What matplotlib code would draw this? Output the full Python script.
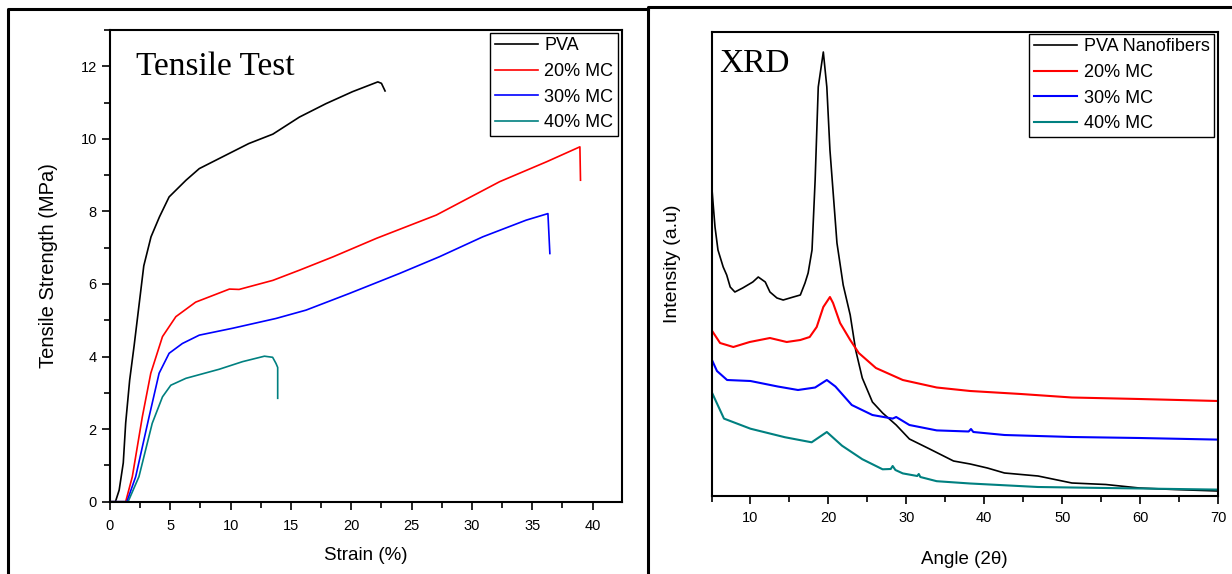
import matplotlib
matplotlib.use("Agg")
import matplotlib.pyplot as plt
from matplotlib.lines import Line2D
from matplotlib.ticker import MultipleLocator

plt.rcParams['font.family'] = ['Liberation Sans', 'DejaVu Sans']

# ---- tensile test (strain %, stress MPa) ----
pva_strain = [0, 0.45, 0.76, 1.1, 1.3, 1.63, 2.0, 2.4, 2.8, 3.4, 4.1, 4.9, 6.3, 7.4, 9.3,
              11.5, 13.5, 15.7, 17.9, 20.1, 22.2, 22.5, 22.8]
pva_stress = [0, 0, 0.32, 1.07, 2.17, 3.35, 4.3, 5.4, 6.5, 7.3, 7.85, 8.4, 8.86, 9.18, 9.5,
              9.87, 10.13, 10.6, 10.97, 11.3, 11.57, 11.53, 11.32]
mc20_strain = [0, 1.3, 1.85, 2.68, 3.38, 4.35, 5.46, 7.1, 9.9, 10.7, 13.5, 15.7, 18.5,
               22.1, 27.05, 32.3, 36.2, 38.95, 39.0]
mc20_stress = [0, 0, 0.69, 2.34, 3.54, 4.55, 5.1, 5.5, 5.86, 5.85, 6.1, 6.38, 6.75,
               7.26, 7.9, 8.82, 9.37, 9.78, 8.86]
mc30_strain = [0, 1.4, 2.13, 3.24, 4.07, 4.9, 6.0, 7.4, 10.16, 13.76, 16.25, 19.85, 24.0,
               27.3, 30.9, 34.5, 36.3, 36.46]
mc30_stress = [0, 0, 0.69, 2.34, 3.54, 4.09, 4.36, 4.59, 4.78, 5.05, 5.28, 5.74, 6.29,
               6.75, 7.3, 7.76, 7.94, 6.84]
mc40_strain = [0, 1.5, 2.4, 3.5, 4.35, 5.04, 6.29, 9.05, 10.99, 12.8, 13.48, 13.76, 13.9, 13.9]
mc40_stress = [0, 0, 0.69, 2.16, 2.89, 3.21, 3.4, 3.65, 3.86, 4.01, 3.98, 3.81, 3.7, 2.85]

# ---- XRD (2theta, intensity a.u.) ----
pva_ang = [5.0, 5.2, 5.45, 5.83, 6.5, 6.95, 7.4, 8.0, 9.0, 10.3, 11.0, 11.9, 12.5, 13.4, 14.2,
           15.5, 16.4, 17.0, 17.4, 17.9, 18.3, 18.7, 19.35, 19.8, 20.2, 21.1, 21.9, 22.8, 23.5,
           24.35, 25.65, 26.96, 28.7, 30.4, 33.0, 36.06, 38.2, 40.4, 42.6, 46.9, 51.25, 55.6,
           59.9, 64.3, 70.0]
pva_int = [313, 293, 269, 246, 229, 221, 209, 204, 208, 214, 219, 214, 204, 198, 196,
           199, 201, 213, 223, 246, 316, 409, 444, 409, 346, 253, 211, 181, 146,
           118, 94, 83, 71, 57, 47, 35, 32, 28, 23, 20, 13, 11.5,
           8, 6.5, 5]
mc20_ang = [5.0, 6.1, 7.8, 9.9, 12.5, 14.65, 16.4, 17.6, 18.5, 19.35, 20.2, 20.6, 21.5, 22.8,
            23.9, 26.1, 29.55, 33.9, 38.2, 44.7, 51.25, 59.9, 70.0]
mc20_int = [166, 153, 149, 154, 158, 154, 156, 159, 169, 189, 199, 193, 173, 156,
            143, 128, 116, 108.5, 105, 102, 98.5, 97, 95]
mc30_ang = [5.0, 5.7, 7.0, 10.0, 13.5, 16.1, 18.3, 19.8, 20.9, 23.0, 25.65, 28.25, 28.7,
            30.4, 33.9, 38.0, 38.3, 38.6, 42.6, 51.25, 59.9, 70.0]
mc30_int = [137, 125, 116, 115, 109.5, 106, 108.5, 116, 109.5, 91, 81, 77.4, 79,
            71, 65.6, 64.5, 67, 64, 61, 59, 58, 56.4]
mc40_ang = [5.0, 6.6, 10.0, 14.4, 17.85, 19.8, 21.75, 24.35, 26.96, 28.0, 28.25, 28.6, 29.55,
            31.4, 31.6, 31.8, 33.9, 38.2, 46.9, 55.6, 70.0]
mc40_int = [104.4, 77.4, 67.3, 58.8, 53.7, 64, 50.3, 36.8, 26.7, 27, 30, 26, 22.6,
            20, 22, 19, 14.8, 12.5, 9, 8, 6.4]

labels_left = ['PVA', '20% MC', '30% MC', '40% MC']
labels_right = ['PVA Nanofibers', '20% MC', '30% MC', '40% MC']
colors = ['black', '#ff0000', '#0000ff', '#008080']

W, H = 1232, 574
fig = plt.figure(figsize=(W / 100, H / 100), dpi=100)


def px_axes(x0, y0, x1, y1):
    # pixel box (top-left origin) -> figure axes
    return fig.add_axes([x0 / W, 1 - y1 / H, (x1 - x0) / W, (y1 - y0) / H])


def style_axes(ax):
    for s in ax.spines.values():
        s.set_linewidth(1.5)
    ax.tick_params(which='both', direction='out', top=False, right=False, width=1.2,
                   labelsize=10.5)
    ax.tick_params(which='major', length=5.5)
    ax.tick_params(which='minor', length=4)


legend_kw = dict(loc='upper right', borderaxespad=0, fontsize=13, handlelength=2.4,
                 handletextpad=0.35, labelspacing=0.48, borderpad=0.25, fancybox=False,
                 framealpha=1, edgecolor='black')

# ---------------- left: tensile test ----------------
ax1 = px_axes(110, 30, 622, 501.7)
for xs, ys, c, lab in zip([pva_strain, mc20_strain, mc30_strain, mc40_strain],
                          [pva_stress, mc20_stress, mc30_stress, mc40_stress],
                          colors, labels_left):
    ax1.plot(xs, ys, color=c, lw=1.2, label=lab)
ax1.set_xlim(0, 42.44)
ax1.set_ylim(0, 13.0)
ax1.xaxis.set_major_locator(MultipleLocator(5))
ax1.xaxis.set_minor_locator(MultipleLocator(2.5))
ax1.yaxis.set_major_locator(MultipleLocator(2))
ax1.yaxis.set_minor_locator(MultipleLocator(1))
style_axes(ax1)
ax1.tick_params(axis='x', pad=7)
ax1.tick_params(axis='y', pad=4)
ax1.set_xlabel('Strain (%)', fontsize=13.5, labelpad=10)
ax1.set_ylabel('Tensile Strength (MPa)', fontsize=14.5, labelpad=16)
ax1.text(0.05, 0.955, 'Tensile Test', transform=ax1.transAxes, fontsize=24,
         family='Liberation Serif', va='top', ha='left')
leg1 = ax1.legend(bbox_to_anchor=(0.992, 0.994), **legend_kw)
leg1.get_frame().set_linewidth(1.0)

# ---------------- right: XRD ----------------
ax2 = px_axes(711.5, 32, 1218, 496)
for xs, ys, c, lab in zip([pva_ang, mc20_ang, mc30_ang, mc40_ang],
                          [pva_int, mc20_int, mc30_int, mc40_int],
                          colors, labels_right):
    ax2.plot(xs, ys, color=c, lw=1.5 if c != 'black' else 1.2, label=lab)
ax2.set_xlim(5, 70)
ax2.set_ylim(0, 464)
ax2.xaxis.set_major_locator(MultipleLocator(10))
ax2.xaxis.set_minor_locator(MultipleLocator(5))
ax2.set_yticks([])
style_axes(ax2)
ax2.tick_params(axis='x', pad=5)
ax2.set_xlabel('Angle (2θ)', fontsize=13.5, labelpad=19)
ax2.set_ylabel('Intensity (a.u)', fontsize=14, labelpad=22)
ax2.text(0.016, 0.965, 'XRD', transform=ax2.transAxes, fontsize=24,
         family='Liberation Serif', va='top', ha='left')
leg2 = ax2.legend(bbox_to_anchor=(0.992, 0.996), **legend_kw)
leg2.get_frame().set_linewidth(1.0)

# ---------------- panel borders ----------------
fig.add_artist(Line2D([8 / W, 8 / W, 648 / W], [0, 1 - 9 / H, 1 - 9 / H],
                      color='black', lw=2.2, transform=fig.transFigure))
fig.add_artist(Line2D([648 / W, 648 / W, 1], [0, 1 - 7 / H, 1 - 7 / H],
                      color='black', lw=2.2, transform=fig.transFigure))

fig.savefig('out.png', dpi=100)
